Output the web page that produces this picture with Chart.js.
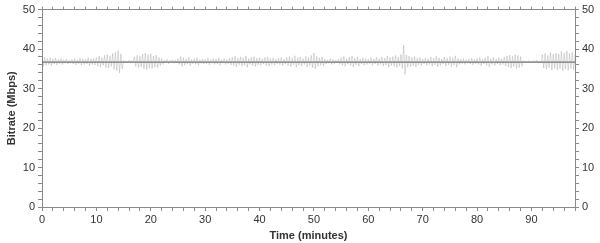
<!DOCTYPE html>
<html>
<head>
<meta charset="utf-8">
<script src="https://cdn.jsdelivr.net/npm/chart.js@4"></script>
<style>
html,body{margin:0;padding:0;background:#fff;}
#wrap{width:600px;height:243px;position:relative;}
</style>
</head>
<body>
<div id="wrap"><canvas id="c" width="600" height="243"></canvas></div>
<script>
// Bucket start times: every 0.5 minute from 0 to 98
const bucketStep = 0.5;
// Max bitrate per bucket (Mbps)
const peaks = [
38.2,37.9,37.6,37.8,37.5,37.7,37.4,37.6,37.3,37.5,
37.2,37.4,37.6,37.3,37.7,37.5,37.4,37.8,37.5,37.6,
37.9,38.2,37.8,38.4,38.6,38.3,38.9,39.2,39.6,38.8,
37.1,37.0,37.2,37.1,38.0,38.4,38.2,38.7,39.0,38.6,
38.8,38.3,38.5,37.9,37.6,37.2,37.4,37.1,37.3,37.2,
37.6,38.1,37.8,37.5,37.9,37.4,37.6,37.8,37.3,37.5,
37.4,37.7,37.3,37.6,37.5,37.8,37.3,37.6,37.4,37.7,
37.9,38.2,37.7,38.0,37.8,38.3,37.6,37.9,38.1,37.7,
37.8,37.5,37.9,38.0,37.6,37.8,37.4,37.7,37.9,37.5,
37.9,38.1,37.7,38.3,37.8,38.0,37.6,38.2,37.9,38.4,
39.0,38.2,37.8,38.0,37.5,37.3,37.6,37.4,37.2,37.5,
37.8,38.1,37.6,37.9,38.2,37.7,38.0,37.5,37.8,37.6,
37.4,37.8,37.5,37.9,37.6,38.0,37.7,38.3,37.9,38.1,
38.4,38.0,38.6,41.0,38.5,38.2,37.9,38.1,37.7,37.9,
37.5,37.8,37.6,38.0,37.7,38.2,37.8,37.5,38.0,37.7,
38.1,37.8,38.3,37.6,37.4,37.6,37.3,37.5,37.7,37.4,
37.6,37.9,37.5,37.8,38.2,37.6,37.9,37.5,37.8,37.6,
38.0,38.3,38.5,38.2,38.6,38.4,38.1,37.1,37.0,37.1,
37.0,37.1,37.2,37.0,38.6,38.9,38.4,39.1,38.7,39.0,
38.8,39.4,39.0,39.5,38.9,39.2,38.7
];
// Min bitrate per bucket (Mbps)
const troughs = [
35.6,35.9,36.1,35.8,36.2,36.0,36.3,36.1,36.4,36.2,
36.4,36.2,36.0,36.3,35.9,36.1,36.2,35.8,36.1,36.0,
35.7,35.5,35.9,35.3,35.2,35.6,34.8,34.5,34.0,35.0,
36.6,36.6,36.5,36.6,35.6,35.3,35.5,35.0,34.8,35.2,
35.1,35.4,35.3,35.8,36.1,36.5,36.3,36.6,36.4,36.5,
36.1,35.6,35.9,36.2,35.8,36.3,36.1,35.9,36.4,36.2,
36.3,36.0,36.4,36.1,36.2,35.9,36.4,36.1,36.3,36.0,
35.8,35.5,36.0,35.7,35.9,35.4,36.1,35.8,35.6,36.0,
35.9,36.2,35.8,35.7,36.1,35.9,36.3,36.0,35.8,36.2,
35.8,35.6,36.0,35.4,35.9,35.7,36.1,35.5,35.8,35.3,
35.0,35.6,35.9,35.7,36.2,36.4,36.1,36.3,36.5,36.2,
35.9,35.6,36.1,35.8,35.5,36.0,35.7,36.2,35.9,36.1,
36.3,35.9,36.2,35.8,36.1,35.7,36.0,35.4,35.8,35.6,
35.3,35.7,35.1,33.6,35.4,35.6,35.8,35.5,36.0,35.8,
36.2,35.9,36.1,35.7,36.0,35.5,35.9,36.2,35.7,36.0,
35.6,35.9,35.4,36.1,36.3,36.1,36.4,36.2,36.0,36.3,
36.1,35.8,36.2,35.9,35.5,36.1,35.8,36.2,35.9,36.1,
35.7,35.4,35.2,35.5,35.1,35.3,35.6,36.6,36.6,36.5,
36.6,36.5,36.4,36.6,35.2,34.9,35.3,34.7,35.1,34.8,
35.0,34.5,34.9,34.6,35.1,34.8,35.3
];
// Typical (median) bitrate level
const medianLevel = 36.7;
const xTicksMajor = [0,10,20,30,40,50,60,70,80,90];
const yTicksMajor = [0,10,20,30,40,50];
const xMax = 98;
const yMax = 50;

const series = [];
for (let i = 0; i < peaks.length; i++) {
  const t = i * bucketStep;
  series.push({x: t, y: peaks[i]});
  series.push({x: t + bucketStep / 2, y: troughs[i]});
}
const core = [{x: 0, y: medianLevel}, {x: xMax, y: medianLevel}];

const FONT = {family: '"Liberation Sans", Arial, sans-serif', size: 11};
const AXIS = '#8a8a8a';
const TXT = '#333333';

new Chart(document.getElementById('c'), {
  type: 'line',
  data: {
    datasets: [
      {data: series, borderColor: 'rgba(110,110,110,0.36)', borderWidth: 0.7, pointRadius: 0, tension: 0, fill: false},
      {data: core, borderColor: 'rgba(85,85,85,0.8)', borderWidth: 1.2, pointRadius: 0, fill: false}
    ]
  },
  options: {
    responsive: false,
    animation: false,
    events: [],
    layout: {padding: 0},
    plugins: {legend: {display: false}, tooltip: {enabled: false}},
    scales: {
      x: {
        type: 'linear', position: 'bottom', min: 0, max: xMax,
        border: {display: true, color: AXIS, width: 1},
        grid: {display: true, drawOnChartArea: false, drawTicks: true, tickLength: 4, color: AXIS},
        ticks: {stepSize: 2, autoSkip: false, maxRotation: 0, color: TXT, font: FONT, padding: 2,
          callback: v => xTicksMajor.includes(v) ? String(v) : ''},
        title: {display: true, text: 'Time (minutes)', color: TXT, font: {family: FONT.family, size: 11, weight: 'bold'}, padding: {top: 2, bottom: 0}},
        afterFit: s => { s.height = 36; }
      },
      x2: {
        type: 'linear', position: 'top', min: 0, max: xMax,
        border: {display: true, color: AXIS, width: 1},
        grid: {display: true, drawOnChartArea: false, drawTicks: true, tickLength: 3, color: AXIS},
        ticks: {stepSize: 2, autoSkip: false, display: true, font: {size: 1}, color: 'rgba(0,0,0,0)', callback: () => ''},
        afterFit: s => { s.height = 7; }
      },
      y: {
        type: 'linear', position: 'left', min: 0, max: yMax,
        border: {display: true, color: AXIS, width: 1},
        grid: {display: true, drawOnChartArea: false, drawTicks: true, tickLength: 4, color: AXIS},
        ticks: {stepSize: 2, autoSkip: false, color: TXT, font: FONT, padding: 3,
          callback: v => yTicksMajor.includes(v) ? String(v) : ''},
        title: {display: true, text: 'Bitrate (Mbps)', color: TXT, font: {family: FONT.family, size: 11, weight: 'bold'}, padding: {top: 5, bottom: 0}},
        afterFit: s => { s.width = 42; }
      },
      y2: {
        type: 'linear', position: 'right', min: 0, max: yMax,
        border: {display: true, color: AXIS, width: 1},
        grid: {display: true, drawOnChartArea: false, drawTicks: true, tickLength: 4, color: AXIS},
        ticks: {stepSize: 2, autoSkip: false, color: TXT, font: FONT, padding: 3,
          callback: v => yTicksMajor.includes(v) ? String(v) : ''},
        afterFit: s => { s.width = 25; }
      }
    }
  }
});
</script>
</body>
</html>
